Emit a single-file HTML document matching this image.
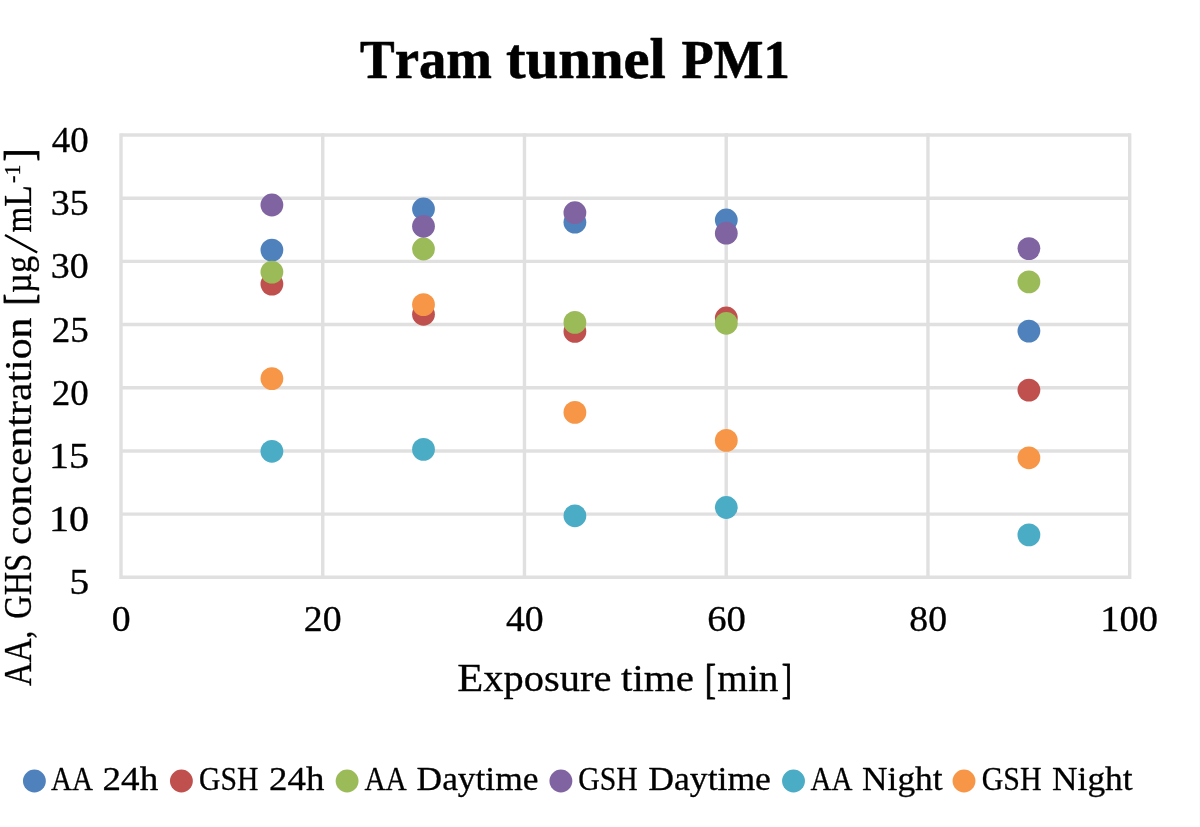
<!DOCTYPE html>
<html><head><meta charset="utf-8"><title>Tram tunnel PM1</title>
<style>
html,body{margin:0;padding:0;background:#fff;}
body{width:1200px;height:827px;overflow:hidden;font-family:"Liberation Serif", serif;}
svg{display:block;}
text{font-family:"Liberation Serif", serif;fill:#000;stroke:#000;stroke-width:0.32px;stroke-linejoin:round;}
text.b{stroke-width:0.6px;}
text.k{stroke-width:0.9px;}
</style></head><body>
<svg width="1200" height="827" viewBox="0 0 1200 827">
<rect x="0" y="0" width="1200" height="827" fill="#ffffff"/>
<rect x="1199" y="0" width="1" height="827" fill="#fcfcfc"/>
<g stroke="#E0E0E0" stroke-width="3.40" fill="none" stroke-linecap="butt">
<line x1="121.00" y1="135.00" x2="1129.70" y2="135.00"/>
<line x1="121.00" y1="198.19" x2="1129.70" y2="198.19"/>
<line x1="121.00" y1="261.37" x2="1129.70" y2="261.37"/>
<line x1="121.00" y1="324.56" x2="1129.70" y2="324.56"/>
<line x1="121.00" y1="387.74" x2="1129.70" y2="387.74"/>
<line x1="121.00" y1="450.93" x2="1129.70" y2="450.93"/>
<line x1="121.00" y1="514.11" x2="1129.70" y2="514.11"/>
<line x1="121.00" y1="577.30" x2="1129.70" y2="577.30"/>
<line x1="121.00" y1="133.30" x2="121.00" y2="579.00"/>
<line x1="322.74" y1="133.30" x2="322.74" y2="579.00"/>
<line x1="524.48" y1="133.30" x2="524.48" y2="579.00"/>
<line x1="726.22" y1="133.30" x2="726.22" y2="579.00"/>
<line x1="927.96" y1="133.30" x2="927.96" y2="579.00"/>
<line x1="1129.70" y1="133.30" x2="1129.70" y2="579.00"/>
</g>
<g fill="#4F81BD">
<circle cx="271.90" cy="250.10" r="11.40"/>
<circle cx="423.50" cy="209.00" r="11.40"/>
<circle cx="574.90" cy="222.20" r="11.40"/>
<circle cx="726.30" cy="220.00" r="11.40"/>
<circle cx="1028.90" cy="331.10" r="11.40"/>
</g>
<g fill="#C0504D">
<circle cx="271.90" cy="284.10" r="11.40"/>
<circle cx="423.50" cy="314.30" r="11.40"/>
<circle cx="574.90" cy="331.40" r="11.40"/>
<circle cx="726.30" cy="318.00" r="11.40"/>
<circle cx="1028.90" cy="390.10" r="11.40"/>
</g>
<g fill="#9BBB59">
<circle cx="271.90" cy="272.10" r="11.40"/>
<circle cx="423.50" cy="249.00" r="11.40"/>
<circle cx="574.90" cy="322.40" r="11.40"/>
<circle cx="726.30" cy="323.30" r="11.40"/>
<circle cx="1028.90" cy="281.90" r="11.40"/>
</g>
<g fill="#8064A2">
<circle cx="271.90" cy="205.00" r="11.40"/>
<circle cx="423.50" cy="226.30" r="11.40"/>
<circle cx="574.90" cy="212.70" r="11.40"/>
<circle cx="726.30" cy="233.20" r="11.40"/>
<circle cx="1028.90" cy="248.60" r="11.40"/>
</g>
<g fill="#4BACC6">
<circle cx="271.90" cy="451.30" r="11.40"/>
<circle cx="423.50" cy="449.40" r="11.40"/>
<circle cx="574.90" cy="515.80" r="11.40"/>
<circle cx="726.30" cy="507.50" r="11.40"/>
<circle cx="1028.90" cy="534.90" r="11.40"/>
</g>
<g fill="#F79646">
<circle cx="271.90" cy="378.60" r="11.40"/>
<circle cx="423.50" cy="304.60" r="11.40"/>
<circle cx="574.90" cy="412.40" r="11.40"/>
<circle cx="726.30" cy="440.40" r="11.40"/>
<circle cx="1028.90" cy="457.80" r="11.40"/>
</g>
<circle cx="34.40" cy="781.00" r="11.45" fill="#4F81BD"/>
<circle cx="181.40" cy="781.00" r="11.45" fill="#C0504D"/>
<circle cx="347.10" cy="781.00" r="11.45" fill="#9BBB59"/>
<circle cx="560.90" cy="781.00" r="11.45" fill="#8064A2"/>
<circle cx="793.50" cy="781.00" r="11.45" fill="#4BACC6"/>
<circle cx="964.00" cy="781.00" r="11.45" fill="#F79646"/>
<g opacity="0.999">
<line x1="37.2" y1="252.6" x2="5.0" y2="234.9" stroke="#000" stroke-width="2.3"/>
<text x="360.00" y="77.80" font-size="57.00" font-weight="bold" textLength="132.02" lengthAdjust="spacingAndGlyphs" class="b"><tspan font-size="54.0">T</tspan>ram</text>
<text x="506.10" y="77.80" font-size="57.00" font-weight="bold" textLength="159.82" lengthAdjust="spacingAndGlyphs" class="b">tunnel</text>
<text x="681.60" y="77.80" font-size="57.00" font-weight="bold" textLength="108.22" lengthAdjust="spacingAndGlyphs" class="b"><tspan font-size="54.0">PM1</tspan></text>
<text x="51.72" y="152.00" font-size="35.60" font-weight="normal" textLength="36.88" lengthAdjust="spacingAndGlyphs">40</text>
<text x="50.82" y="215.19" font-size="35.60" font-weight="normal" textLength="37.88" lengthAdjust="spacingAndGlyphs">35</text>
<text x="50.82" y="278.37" font-size="35.60" font-weight="normal" textLength="37.88" lengthAdjust="spacingAndGlyphs">30</text>
<text x="51.72" y="341.56" font-size="35.60" font-weight="normal" textLength="36.93" lengthAdjust="spacingAndGlyphs">25</text>
<text x="51.72" y="404.74" font-size="35.60" font-weight="normal" textLength="36.93" lengthAdjust="spacingAndGlyphs">20</text>
<text x="49.02" y="467.93" font-size="35.60" font-weight="normal" textLength="40.07" lengthAdjust="spacingAndGlyphs">15</text>
<text x="49.02" y="531.11" font-size="35.60" font-weight="normal" textLength="40.07" lengthAdjust="spacingAndGlyphs">10</text>
<text x="69.56" y="594.30" font-size="35.60" font-weight="normal" textLength="19.63" lengthAdjust="spacingAndGlyphs">5</text>
<text x="111.69" y="631.20" font-size="35.60" font-weight="normal" textLength="18.86" lengthAdjust="spacingAndGlyphs">0</text>
<text x="303.86" y="631.20" font-size="35.60" font-weight="normal" textLength="37.73" lengthAdjust="spacingAndGlyphs">20</text>
<text x="505.96" y="631.20" font-size="35.60" font-weight="normal" textLength="37.72" lengthAdjust="spacingAndGlyphs">40</text>
<text x="707.22" y="631.20" font-size="35.60" font-weight="normal" textLength="38.70" lengthAdjust="spacingAndGlyphs">60</text>
<text x="909.32" y="631.20" font-size="35.60" font-weight="normal" textLength="37.74" lengthAdjust="spacingAndGlyphs">80</text>
<text x="1100.27" y="631.20" font-size="35.60" font-weight="normal" textLength="57.63" lengthAdjust="spacingAndGlyphs">100</text>
<text x="457.34" y="691.30" font-size="37.00" font-weight="normal" textLength="154.12" lengthAdjust="spacingAndGlyphs"><tspan font-size="39.0">E</tspan>xposure</text>
<text x="621.12" y="691.30" font-size="37.00" font-weight="normal" textLength="72.82" lengthAdjust="spacingAndGlyphs">time</text>
<text x="704.82" y="692.70" font-size="41.80" font-weight="normal" textLength="11.25" lengthAdjust="spacingAndGlyphs" class="k">[</text>
<text x="717.32" y="691.30" font-size="37.00" font-weight="normal" textLength="61.20" lengthAdjust="spacingAndGlyphs">min</text>
<text x="781.78" y="692.70" font-size="41.80" font-weight="normal" textLength="10.21" lengthAdjust="spacingAndGlyphs" class="k">]</text>
<text transform="rotate(-90)" x="-686.00" y="31.30" font-size="37.00" font-weight="normal" textLength="55.28" lengthAdjust="spacingAndGlyphs"><tspan font-size="39.0">AA</tspan>,</text>
<text transform="rotate(-90)" x="-618.66" y="31.30" font-size="37.00" font-weight="normal" textLength="64.85" lengthAdjust="spacingAndGlyphs"><tspan font-size="39.0">GHS</tspan></text>
<text transform="rotate(-90)" x="-544.90" y="31.30" font-size="37.00" font-weight="normal" textLength="227.29" lengthAdjust="spacingAndGlyphs">concentration</text>
<text transform="rotate(-90)" x="-305.56" y="32.70" font-size="41.80" font-weight="normal" textLength="11.82" lengthAdjust="spacingAndGlyphs" class="k">[</text>
<text transform="rotate(-90)" x="-292.90" y="31.30" font-size="37.00" font-weight="normal" textLength="36.98" lengthAdjust="spacingAndGlyphs">µg</text>
<text transform="rotate(-90)" x="-232.40" y="31.30" font-size="37.00" font-weight="normal" textLength="47.09" lengthAdjust="spacingAndGlyphs">m<tspan font-size="39.0">L</tspan></text>
<text transform="rotate(-90)" x="-182.90" y="19.50" font-size="24.00" font-weight="normal" textLength="18.22" lengthAdjust="spacingAndGlyphs">-1</text>
<text transform="rotate(-90)" x="-161.40" y="32.70" font-size="41.80" font-weight="normal" textLength="13.14" lengthAdjust="spacingAndGlyphs" class="k">]</text>
<text x="51.12" y="790.40" font-size="34.50" font-weight="normal" textLength="42.00" lengthAdjust="spacingAndGlyphs">AA</text>
<text x="102.58" y="790.40" font-size="34.50" font-weight="normal" textLength="55.59" lengthAdjust="spacingAndGlyphs">24h</text>
<text x="198.98" y="790.40" font-size="34.50" font-weight="normal" textLength="59.35" lengthAdjust="spacingAndGlyphs">GSH</text>
<text x="269.10" y="790.40" font-size="34.50" font-weight="normal" textLength="55.29" lengthAdjust="spacingAndGlyphs">24h</text>
<text x="364.38" y="790.40" font-size="34.50" font-weight="normal" textLength="42.51" lengthAdjust="spacingAndGlyphs">AA</text>
<text x="416.60" y="790.40" font-size="34.50" font-weight="normal" textLength="121.82" lengthAdjust="spacingAndGlyphs">Daytime</text>
<text x="578.34" y="790.40" font-size="34.50" font-weight="normal" textLength="59.48" lengthAdjust="spacingAndGlyphs">GSH</text>
<text x="648.34" y="790.40" font-size="34.50" font-weight="normal" textLength="122.59" lengthAdjust="spacingAndGlyphs">Daytime</text>
<text x="810.50" y="790.40" font-size="34.50" font-weight="normal" textLength="42.00" lengthAdjust="spacingAndGlyphs">AA</text>
<text x="862.10" y="790.40" font-size="34.50" font-weight="normal" textLength="80.43" lengthAdjust="spacingAndGlyphs">Night</text>
<text x="981.72" y="790.40" font-size="34.50" font-weight="normal" textLength="59.86" lengthAdjust="spacingAndGlyphs">GSH</text>
<text x="1052.10" y="790.40" font-size="34.50" font-weight="normal" textLength="80.43" lengthAdjust="spacingAndGlyphs">Night</text>
</g>
</svg>
</body></html>
